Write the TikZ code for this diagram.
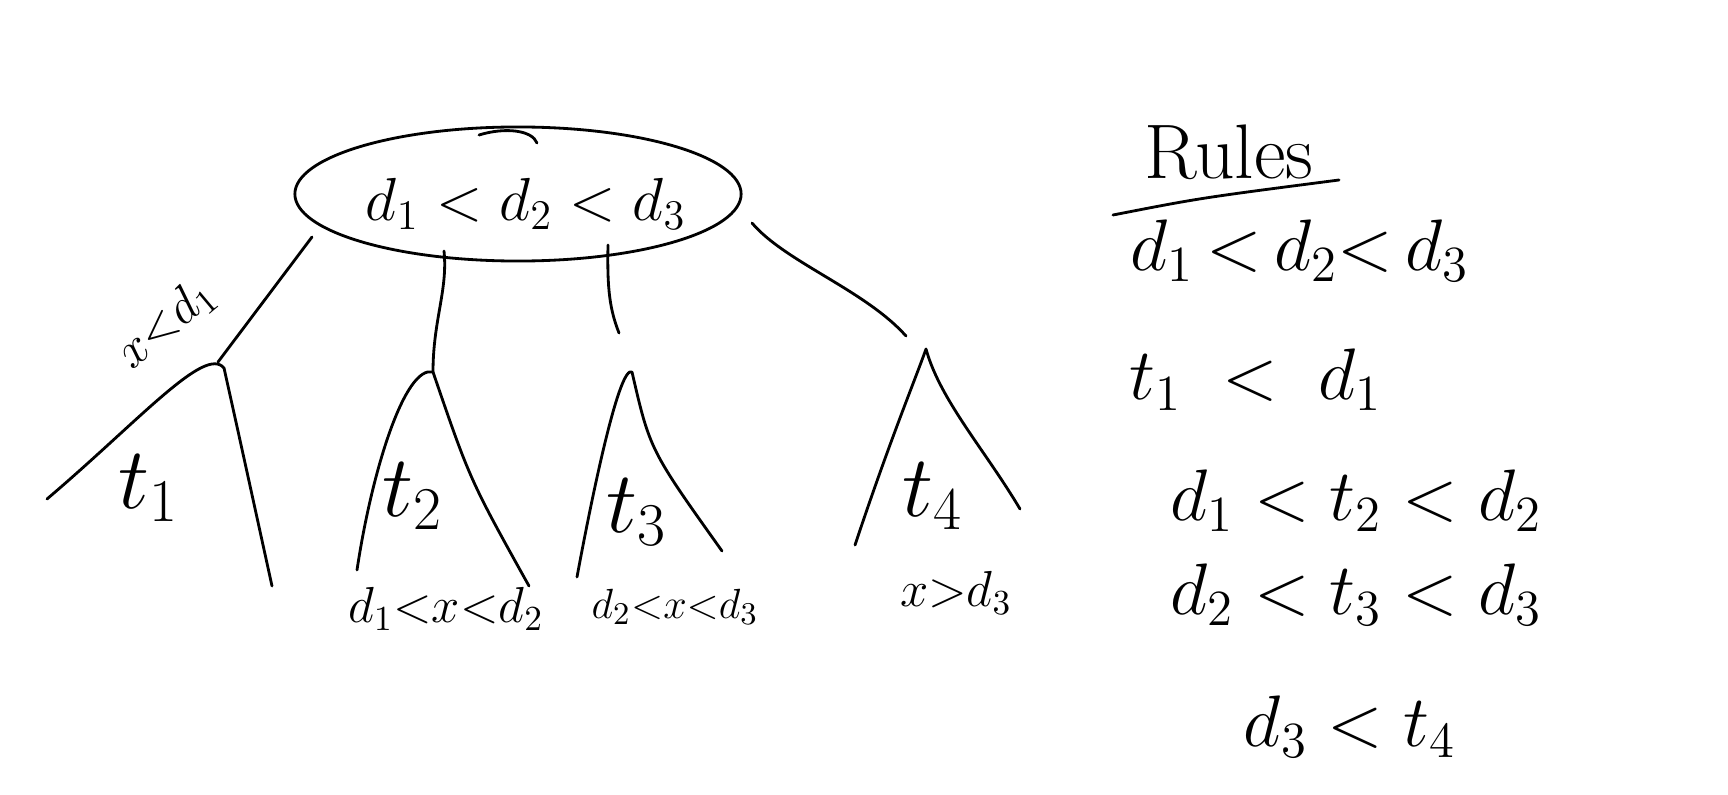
\documentclass[tikz,border=0pt]{standalone}
\usetikzlibrary{shapes.geometric}
\begin{document}
\begin{tikzpicture}[x=0.01cm,y=-0.01cm, line width=0.8pt, line cap=round, line join=round,
  keyfont/.style={font=\fontsize{18}{22}\selectfont, inner sep=0},
  rulefont/.style={font=\fontsize{22}{26}\selectfont, inner sep=0},
  subfont/.style={font=\fontsize{24}{28}\selectfont, inner sep=0},
  labfont/.style={font=\fontsize{14}{17}\selectfont, inner sep=0}]
\useasboundingbox (0,0) rectangle (1728,794);
% root node
\node[draw, ellipse, minimum width=4.46cm, minimum height=1.34cm, inner sep=0] (root) at (518,194) {};
\node[keyfont] (keys) at (526,204) {$d_1 < d_2 < d_3$};
\coordinate (m1) at (479,135); \coordinate (m2) at (537,143);
\draw (m1) .. controls (505,127) and (532,130) .. (m2);
% connectors from root
\coordinate (e1s) at (312,237); \coordinate (a1) at (218,362);
\coordinate (e2s) at (444,251); \coordinate (a2) at (433,372);
\coordinate (e3s) at (608,245); \coordinate (e3e) at (619,333);
\coordinate (e4s) at (752,223); \coordinate (e4e) at (906,336);
\draw (e1s) -- (a1);
\draw (e2s) .. controls (448,290) and (433,320) .. (a2);
\draw (e3s) .. controls (607,290) and (610,310) .. (e3e);
\draw (e4s) .. controls (785,262) and (865,290) .. (e4e);
% subtrees
\coordinate (l1) at (47,499);  \coordinate (r1) at (272,586);
\coordinate (l2) at (357,570); \coordinate (r2) at (529,586);
\coordinate (l3) at (577,577); \coordinate (p3) at (632,372); \coordinate (r3) at (722,551);
\coordinate (l4) at (855,545); \coordinate (p4) at (926,349); \coordinate (r4) at (1020,509);
\draw (l1) .. controls (140,420) and (205,345) .. (224,368) .. controls (240,440) .. (r1);
\draw (l2) .. controls (372,470) and (405,365) .. (a2) .. controls (470,480) .. (r2);
\draw (l3) .. controls (595,480) and (620,365) .. (p3) .. controls (650,450) .. (r3);
\draw (l4) .. controls (890,440) and (915,380) .. (p4) .. controls (940,400) and (985,450) .. (r4);
\node[subfont] (t1) at (149,488) {$t_1$};
\node[subfont] (t2) at (413,496) {$t_2$};
\node[subfont] (t3) at (637,512) {$t_3$};
\node[subfont] (t4) at (933,496) {$t_4$};
\node[labfont, rotate=40] (c1) at (166,324) {$x{<}d_1$};
\node[labfont] (c2) at (446,609) {$d_1{<}x{<}d_2$};
\node[labfont, font=\fontsize{12.5}{15}\selectfont] (c3) at (675,607) {$d_2{<}x{<}d_3$};
\node[labfont] (c4) at (956,593) {$x{>}d_3$};
% rules
\node[font=\fontsize{22}{26}\selectfont, inner sep=0] (rules) at (1229,152) {Rules};
\coordinate (u1) at (1113,215); \coordinate (u2) at (1339,180);
\draw (u1) .. controls (1200,198) .. (u2);
\node[rulefont] (r0) at (1300,251) {$d_1\,{<}\,d_2{<}\,d_3$};
\node[rulefont] (rA) at (1256,380) {$t_1 \;<\; d_1$};
\node[rulefont] (rB) at (1356,501) {$d_1 < t_2 < d_2$};
\node[rulefont] (rC) at (1356,595) {$d_2 < t_3 < d_3$};
\node[rulefont] (rD) at (1350,727) {$d_3 < t_4$};
\end{tikzpicture}
\end{document}
